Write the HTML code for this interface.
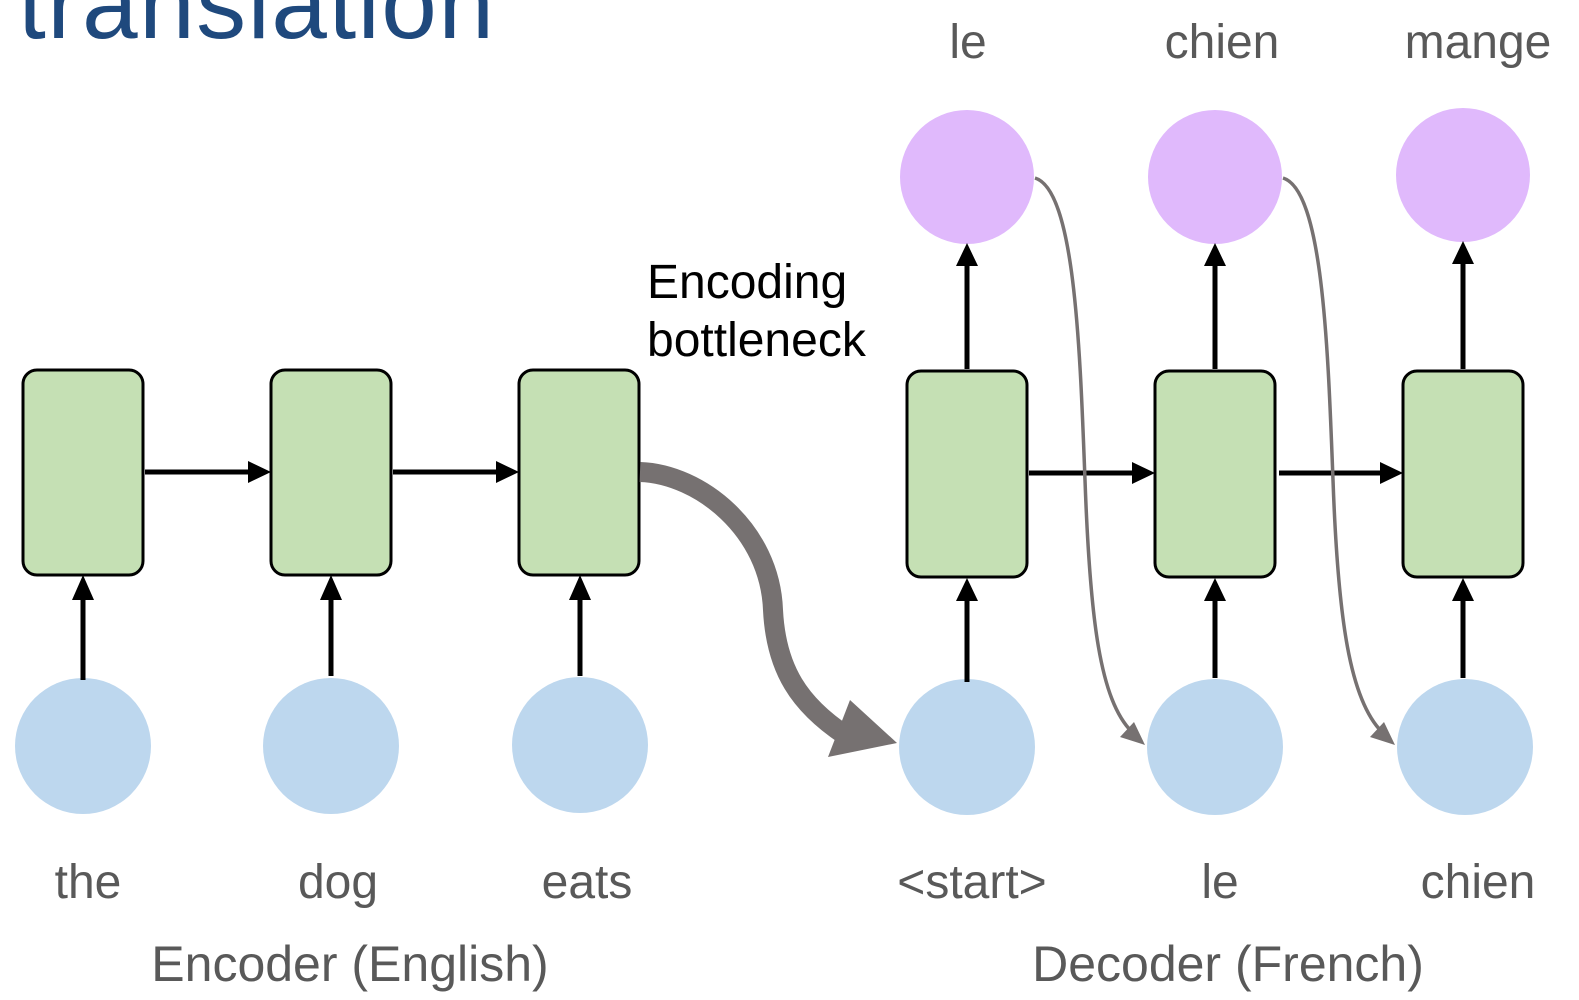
<!DOCTYPE html>
<html><head><style>
html,body{margin:0;padding:0;background:#fff;width:1579px;height:1000px;overflow:hidden}
svg{display:block}
text{font-family:"Liberation Sans",sans-serif}
</style></head><body>
<svg width="1579" height="1000" viewBox="0 0 1579 1000" xmlns="http://www.w3.org/2000/svg">
<text x="18" y="38" font-size="100" fill="#1f497d" textLength="476">translation</text>

<g fill="#bdd7ee">
<circle cx="83" cy="746" r="68"/><circle cx="331" cy="746" r="68"/><circle cx="580" cy="745" r="68"/>
<circle cx="967" cy="747" r="68"/><circle cx="1215" cy="747" r="68"/><circle cx="1465" cy="747" r="68"/>
</g>
<g fill="#e0b9fc">
<circle cx="967" cy="177" r="67"/><circle cx="1215" cy="177" r="67"/><circle cx="1463" cy="175" r="67"/>
</g>
<g fill="#c5e0b4" stroke="#000" stroke-width="3">
<rect x="23" y="370" width="120" height="205" rx="14"/>
<rect x="271" y="370" width="120" height="205" rx="14"/>
<rect x="519" y="370" width="120" height="205" rx="14"/>
<rect x="907" y="371" width="120" height="206" rx="14"/>
<rect x="1155" y="371" width="120" height="206" rx="14"/>
<rect x="1403" y="371" width="120" height="206" rx="14"/>
</g>
<g stroke="#000" stroke-width="5" fill="none">
<path d="M83,680V598 M331,676V598 M580,676V598 M967,682V598 M1215,678V598 M1463,678V598"/>
<path d="M145,472H250 M393,472H498 M1029,473H1134 M1279,473H1382"/>
<path d="M967,369V264 M1215,369V264 M1463,369V264"/>
</g>
<g fill="#000">
<path d="M72,600 L83,575 L94,600z M320,600 L331,575 L342,600z M569,600 L580,575 L591,600z"/>
<path d="M956,601 L967,578 L978,601z M1204,601 L1215,578 L1226,601z M1452,601 L1463,578 L1474,601z"/>
<path d="M248,461 L271,472 L248,483z M496,461 L519,472 L496,483z M1132,462 L1155,473 L1132,484z M1380,462 L1403,473 L1380,484z"/>
<path d="M956,266 L967,243 L978,266z M1204,266 L1215,243 L1226,266z M1452,264 L1463,241 L1474,264z"/>
</g>

<path d="M640,472 C700,474 770,530 773,610 C776,670 800,705 845,735" stroke="#767171" stroke-width="20" fill="none"/>
<path d="M828,757 L897,743 L850,700z" fill="#767171"/>

<g stroke="#767171" stroke-width="3.5" fill="none">
<path d="M1035,178 C1075,190 1080,350 1085,480 C1090,620 1100,700 1132,732"/>
<path d="M1283,178 C1323,190 1328,350 1333,480 C1338,620 1350,700 1382,732"/>
</g>
<g fill="#767171">
<path d="M1145,745 L1120,737 L1134,722z"/>
<path d="M1395,745 L1370,737 L1384,722z"/>
</g>

<g fill="#595959" font-size="48" text-anchor="middle">
<text x="88" y="898">the</text>
<text x="338" y="898">dog</text>
<text x="587" y="898">eats</text>
<text x="972" y="898">&lt;start&gt;</text>
<text x="1220" y="898">le</text>
<text x="1478" y="898">chien</text>
<text x="968" y="58">le</text>
<text x="1222" y="58">chien</text>
<text x="1478" y="58">mange</text>
<text x="350" y="981" font-size="50">Encoder (English)</text>
<text x="1228" y="981" font-size="50">Decoder (French)</text>
</g>
<g fill="#000" font-size="48">
<text x="647" y="298">Encoding</text>
<text x="647" y="356">bottleneck</text>
</g>
</svg>
</body></html>
